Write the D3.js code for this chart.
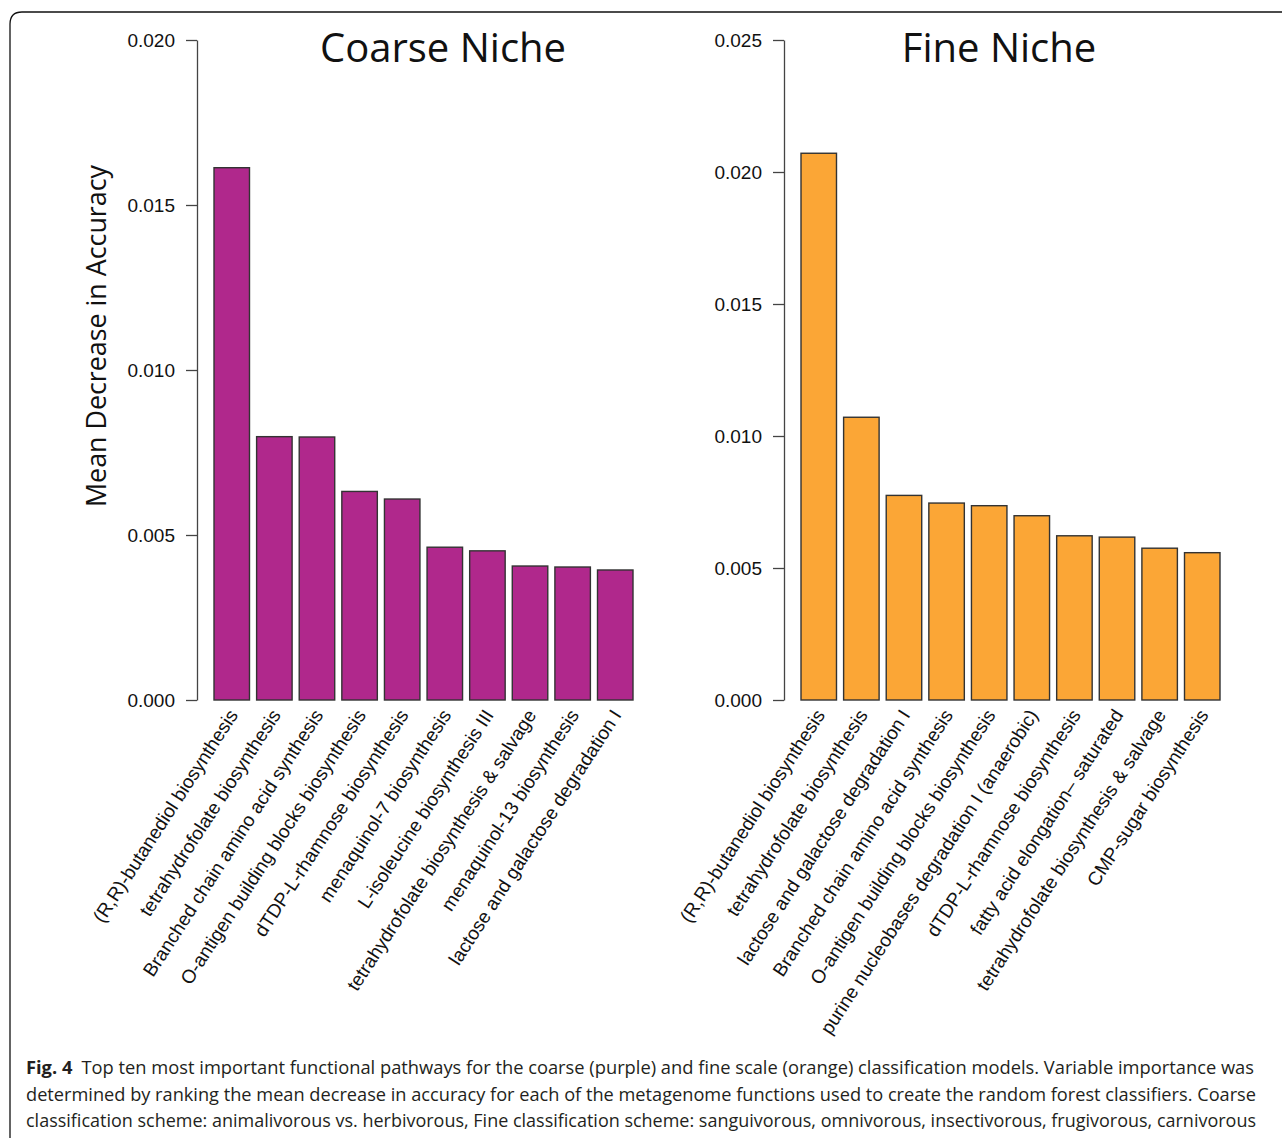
<!DOCTYPE html>
<html lang="en">
<head>
<meta charset="UTF-8">
<title>Top ten functional pathways</title>
<script src="https://d3js.org/d3.v7.min.js"></script>
<style>
    body { margin: 0; background: #fff; }
    .tick text { font-family: "Liberation Sans", Arial, sans-serif; font-size: 19px; fill: #111; }
    .xlab { font-family: "Liberation Sans", Arial, sans-serif; font-size: 19px; fill: #111; }
    .title { font-family: "Open Sans", sans-serif; font-size: 40px; fill: #111; }
    .caption { font-family: "Open Sans", sans-serif; font-size: 18.5px; fill: #231f20; }
</style>
</head>
<body>
<svg width="1282" height="1138"></svg>
<script>
    // coarse niche
    const coarseNames = ["(R,R)-butanediol biosynthesis", "tetrahydrofolate biosynthesis",
        "Branched chain amino acid synthesis", "O-antigen building blocks biosynthesis",
        "dTDP-L-rhamnose biosynthesis", "menaquinol-7 biosynthesis",
        "L-isoleucine biosynthesis III", "tetrahydrofolate biosynthesis & salvage",
        "menaquinol-13 biosynthesis", "lactose and galactose degradation I"];
    const coarseValues = [0.01613, 0.00798, 0.00797, 0.00632, 0.00609, 0.00463, 0.00452, 0.00406, 0.00403, 0.00394];
    const coarseTicks = [0, 0.005, 0.010, 0.015, 0.020];

    // fine niche
    const fineNames = ["(R,R)-butanediol biosynthesis", "tetrahydrofolate biosynthesis",
        "lactose and galactose degradation I", "Branched chain amino acid synthesis",
        "O-antigen building blocks biosynthesis", "purine nucleobases degradation I (anaerobic)",
        "dTDP-L-rhamnose biosynthesis", "fatty acid elongation\u2013 saturated",
        "tetrahydrofolate biosynthesis & salvage", "CMP-sugar biosynthesis"];
    const fineValues = [0.02071, 0.01071, 0.00775, 0.00746, 0.00736, 0.00698, 0.00622, 0.00617, 0.00575, 0.00558];
    const fineTicks = [0, 0.005, 0.010, 0.015, 0.020, 0.025];

    const captionLines = [
        "Top ten most important functional pathways for the coarse (purple) and fine scale (orange) classification models. Variable importance was",
        "determined by ranking the mean decrease in accuracy for each of the metagenome functions used to create the random forest classifiers. Coarse",
        "classification scheme: animalivorous vs. herbivorous, Fine classification scheme: sanguivorous, omnivorous, insectivorous, frugivorous, carnivorous"
    ];

    const svg = d3.select("svg");

    // frame, open at the right and bottom
    svg.append("path")
        .attr("d", "M1290,12 H22 Q10,12 10,24 V1145")
        .attr("fill", "none")
        .attr("stroke", "#111")
        .attr("stroke-width", 1.3);

    function panel(x0, names, values, ticks, color, title, titleX) {
        const g = svg.append("g");
        const y = d3.scaleLinear().domain([0, d3.max(ticks)]).range([700, 40]);
        const x = d3.scaleBand().domain(names.map((d, i) => i))
            .range([x0 + 17, x0 + 436]).paddingInner(0.167).paddingOuter(0);

        const ax = g.append("g").attr("transform", `translate(${x0},0)`)
            .call(d3.axisLeft(y).tickValues(ticks).tickFormat(d3.format(".3f"))
                .tickSizeOuter(0).tickSizeInner(11).tickPadding(11));
        ax.select(".domain").attr("stroke", "#444").attr("stroke-width", 1.3);
        ax.selectAll(".tick line").attr("stroke", "#444").attr("stroke-width", 1.3);
        ax.selectAll(".tick text").attr("font-size", null).attr("font-family", null);

        g.selectAll("rect").data(values).join("rect")
            .attr("x", (d, i) => x(i))
            .attr("width", x.bandwidth())
            .attr("y", d => y(d))
            .attr("height", d => y(0) - y(d))
            .attr("fill", color)
            .attr("stroke", "#333")
            .attr("stroke-width", 1.4);

        g.selectAll(".xlab").data(names).join("text")
            .attr("class", "xlab")
            .attr("text-anchor", "end")
            .attr("transform", (d, i) => `translate(${x(i) + x.bandwidth() / 2 + 7},${715}) rotate(-57)`)
            .text(d => d);

        g.append("text").attr("class", "title")
            .attr("x", titleX).attr("y", 62)
            .attr("text-anchor", "middle")
            .text(title);
    }

    panel(197, coarseNames, coarseValues, coarseTicks, "#b0288c", "Coarse Niche", 443);
    panel(784, fineNames, fineValues, fineTicks, "#fba636", "Fine Niche", 999);

    svg.append("text")
        .attr("class", "title")
        .attr("transform", "translate(106,336) rotate(-90)")
        .attr("text-anchor", "middle")
        .attr("textLength", 342)
        .attr("lengthAdjust", "spacingAndGlyphs")
        .style("font-size", "28px")
        .text("Mean Decrease in Accuracy");

    const cap = svg.append("g");
    captionLines.forEach((line, i) => {
        const t = cap.append("text").attr("class", "caption")
            .attr("x", 26).attr("y", 1074 + i * 26.5);
        if (i === 0) {
            t.attr("textLength", 1228).attr("lengthAdjust", "spacingAndGlyphs");
            t.append("tspan").attr("font-weight", "bold").text("Fig. 4");
            t.append("tspan").text("\u2002" + line);
        } else {
            t.attr("textLength", 1230).attr("lengthAdjust", "spacingAndGlyphs").text(line);
        }
    });
</script>
</body>
</html>
